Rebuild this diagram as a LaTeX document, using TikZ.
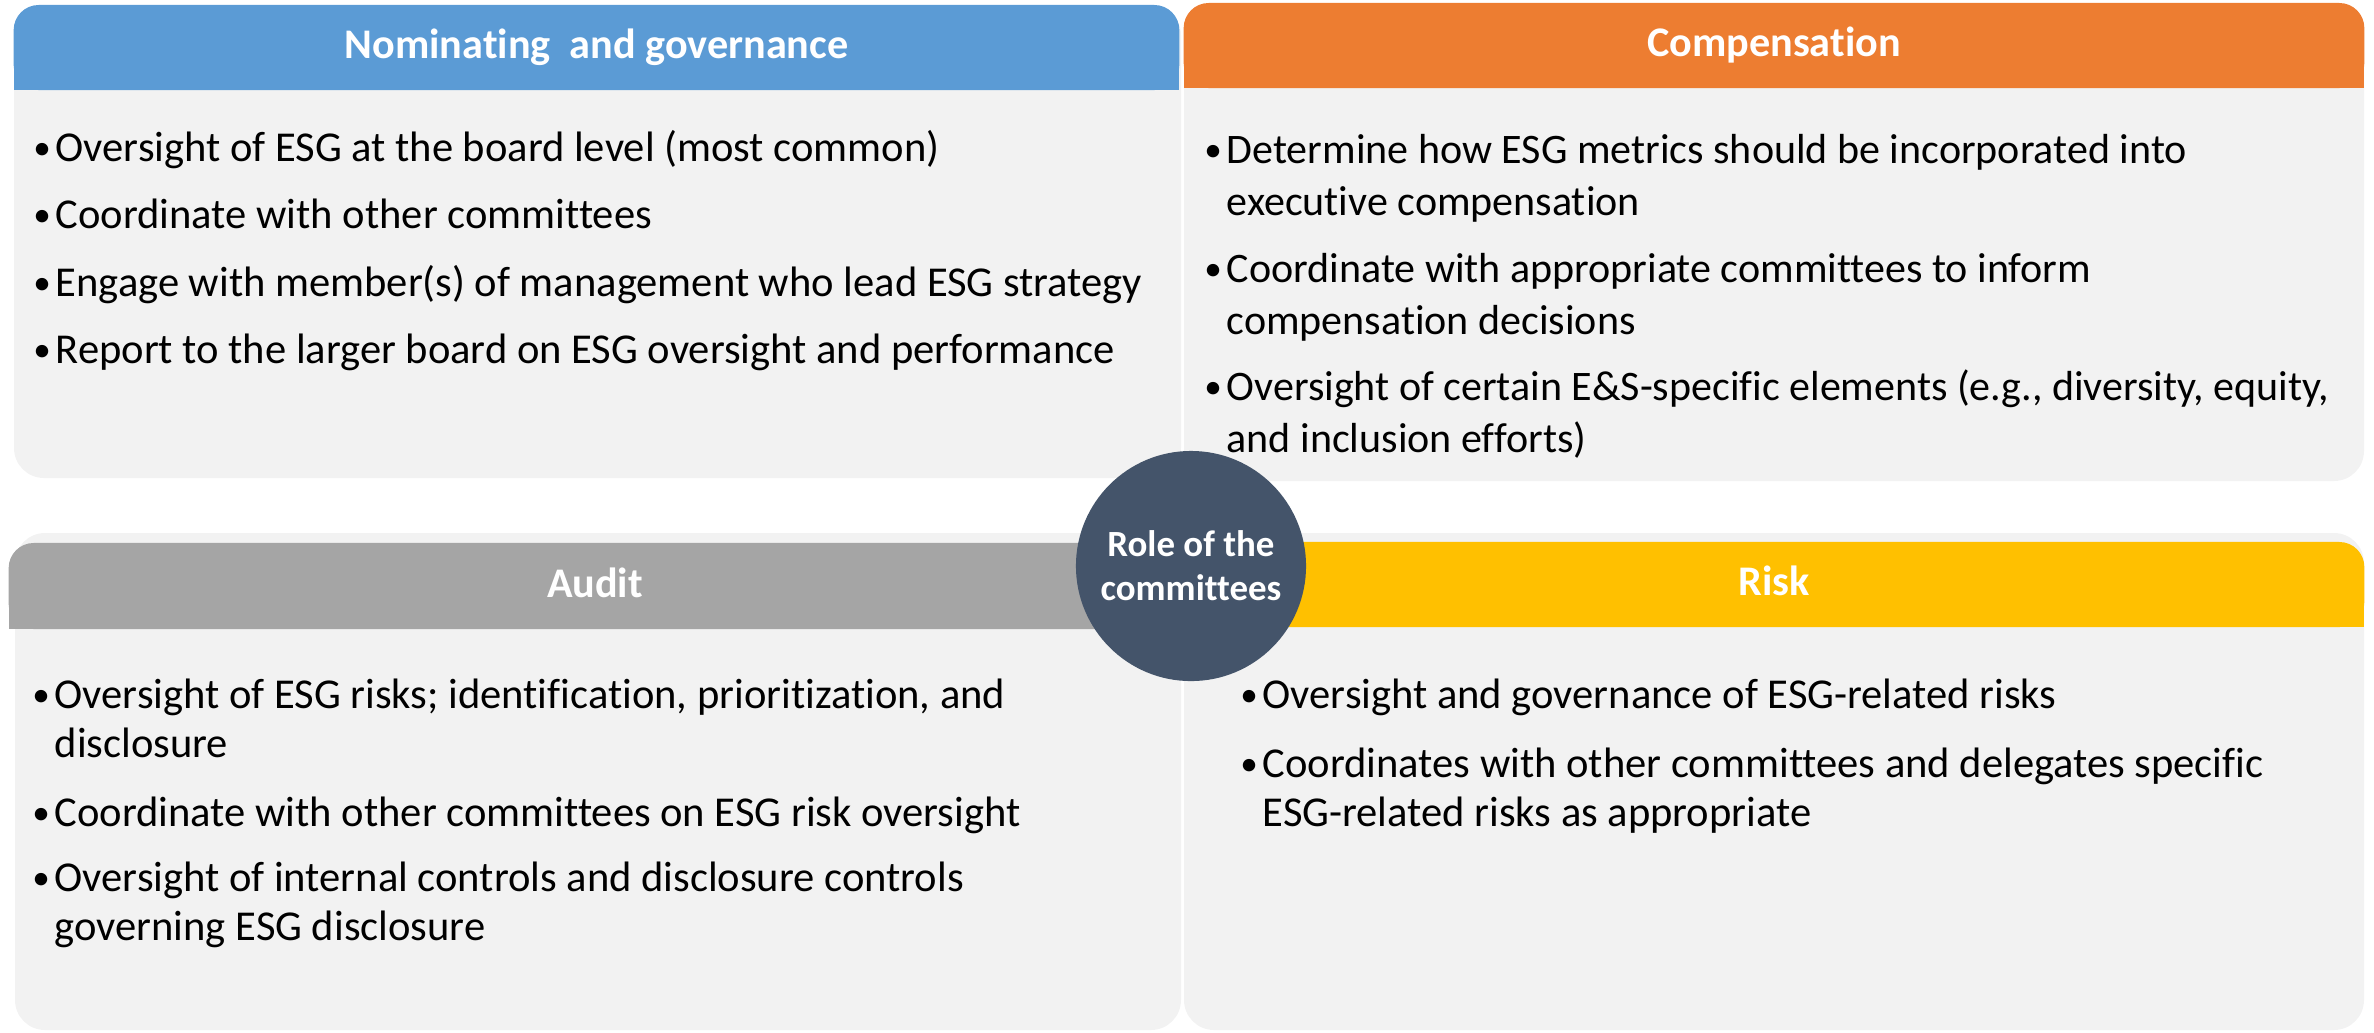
\documentclass[tikz,border=0pt]{standalone}
\usepackage{fontspec}
\setmainfont{Carlito}[Ligatures=NoCommon]
\usepackage{xcolor}
\usetikzlibrary{positioning,calc}

\definecolor{nomblue}{HTML}{5B9BD5}
\definecolor{comporange}{HTML}{ED7D31}
\definecolor{auditgray}{HTML}{A5A5A5}
\definecolor{riskyellow}{HTML}{FFC000}
\definecolor{panelbg}{HTML}{F2F2F2}
\definecolor{hubslate}{HTML}{44546A}

% small bullet, wrapped lines hang under the text
\newcommand{\bul}[1]{%
    \makebox[0.27cm]{\raisebox{0.4pt}{\fontsize{10}{10}\selectfont\textbullet}}%
    \parbox[t]{11.6cm}{#1}}

\begin{document}
\begin{tikzpicture}[
        x=0.01cm, y=-0.01cm,
        panel/.style={fill=panelbg, rounded corners=0.3cm},
        header/.style={rectangle, rounded corners=0.25cm, inner sep=0pt,
            minimum height=0.85cm, text=white,
            font=\fontsize{12}{14}\selectfont\bfseries,
            text height=0.83em, text depth=0.2em},
        itemtext/.style={anchor=base west, inner sep=0pt,
            font=\fontsize{12.1}{14.2}\selectfont},
        hub/.style={circle, fill=hubslate, minimum size=2.3cm, inner sep=0pt,
            align=center, text=white, font=\fontsize{10.5}{12.5}\selectfont\bfseries}
    ]
    \useasboundingbox (0,0) rectangle (2374,1032);

    % Nominating and governance
    \fill[panel] (14,5) rectangle (1181,478);
    \fill[nomblue] (14,48) rectangle (1179,90);
    \node[header, fill=nomblue, minimum width=11.65cm] (nomhead) at (596.5,47.5)
        {Nominating\ \ and governance};
    \foreach \y/\txt [count=\i] in {
        161/{Oversight of ESG at the board level (most common)},
        228/{Coordinate with other committees},
        296/{Engage with member(s) of management who lead ESG strategy},
        363/{Report to the larger board on ESG oversight and performance}}
        \node[itemtext] (nom-\i) at (28,\y) {\bul{\txt}};

    % Compensation
    \fill[panel] (1184,3) rectangle (2364,481);
    \fill[comporange] (1184,46) rectangle (2364,88);
    \node[header, fill=comporange, minimum width=11.8cm] (comphead) at (1774,45.5)
        {Compensation};
    \foreach \y/\txt [count=\i] in {
        163/{Determine how ESG metrics should be incorporated into\\executive compensation},
        282/{Coordinate with appropriate committees to inform\\compensation decisions},
        400/{Oversight of certain E\&S-specific elements (e.g., diversity, equity,\\and inclusion efforts)}}
        \node[itemtext, font=\fontsize{11.95}{14.8}\selectfont] (comp-\i) at (1199,\y) {\bul{\txt}};

    % Audit
    \fill[panel] (15,533) rectangle (1181,1030);
    \fill[auditgray] (9,586) rectangle (1181,629);
    \node[header, fill=auditgray, minimum width=11.72cm, minimum height=0.86cm] (audithead)
        at (595,586) {Audit};
    \foreach \y/\txt [count=\i] in {
        708/{Oversight of ESG risks; identification, prioritization, and\\disclosure},
        826/{Coordinate with other committees on ESG risk oversight},
        891/{Oversight of internal controls and disclosure controls\\governing ESG disclosure}}
        \node[itemtext] (audit-\i) at (27,\y) {\bul{\txt}};

    % Risk
    \fill[panel] (1184,533) rectangle (2364,1030);
    \fill[riskyellow] (1184,584) rectangle (2364,627);
    \node[header, fill=riskyellow, minimum width=11.8cm] (riskhead) at (1774,584.5)
        {Risk};
    \foreach \y/\txt [count=\i] in {
        708/{Oversight and governance of ESG-related risks},
        777/{Coordinates with other committees and delegates specific\\ESG-related risks as appropriate}}
        \node[itemtext] (risk-\i) at (1235,\y) {\bul{\txt}};

    % Centre circle
    \node[hub] (role) at (1191,566) {Role of the\\committees};
\end{tikzpicture}
\end{document}
